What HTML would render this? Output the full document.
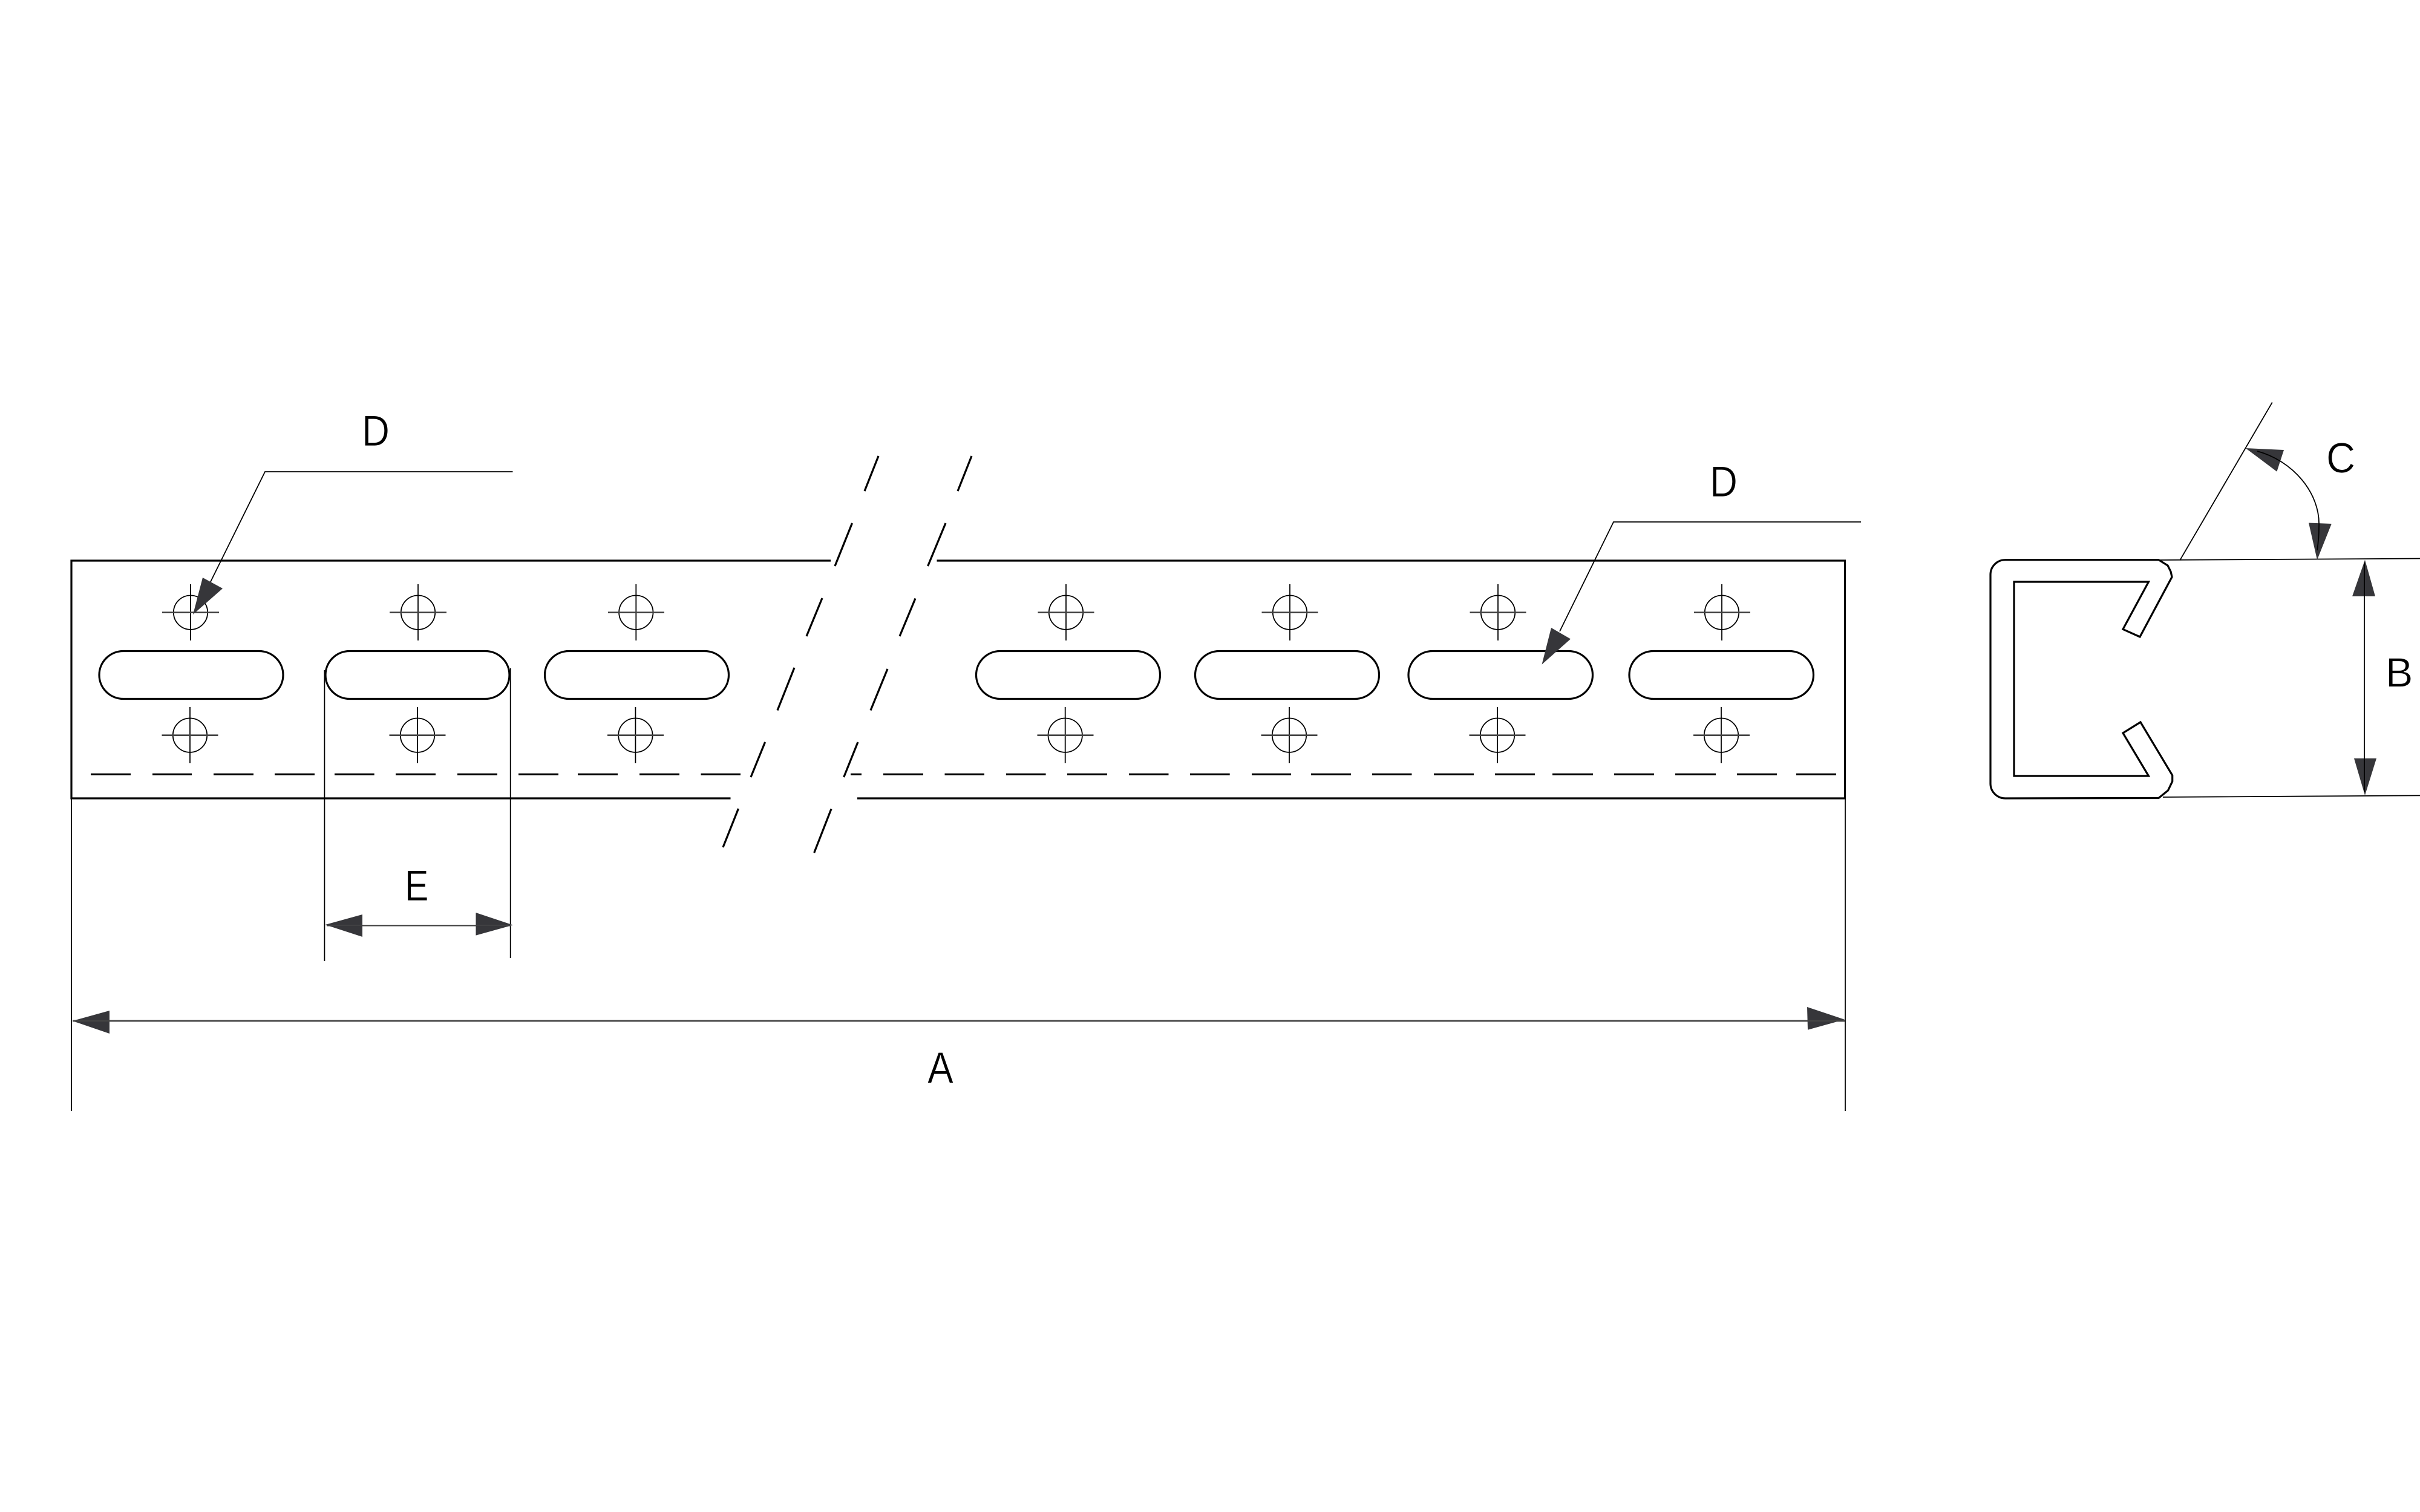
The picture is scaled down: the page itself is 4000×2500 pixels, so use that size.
<!DOCTYPE html>
<html>
<head>
<meta charset="utf-8">
<style>
html,body{margin:0;padding:0;background:#fff;width:4000px;height:2500px;overflow:hidden}
svg{display:block}
.t{fill:none;stroke:#000;stroke-width:3.2}
.n{fill:none;stroke:#000;stroke-width:1.8}
.g{fill:none;stroke:#444;stroke-width:2.6}
.h{fill:#36363a;stroke:none}
text{font-family:"Liberation Sans",sans-serif;font-size:74px;fill:#000;stroke:#fff;stroke-width:.8}
</style>
</head>
<body>
<svg width="4000" height="2500" viewBox="0 0 4000 2500" xmlns="http://www.w3.org/2000/svg">
<rect width="4000" height="2500" fill="#fff"/>

<!-- plate outline -->
<path class="t" d="M1373 927H118V1320H1207.5M1417 1320H3049.5V927H1548.5"/>

<!-- slots -->
<rect class="t" x="164" y="1076.5" width="304" height="79" rx="40" ry="39.5"/>
<rect class="t" x="538" y="1076.5" width="304" height="79" rx="40" ry="39.5"/>
<rect class="t" x="900.5" y="1076.5" width="304" height="79" rx="40" ry="39.5"/>
<rect class="t" x="1613.5" y="1076.5" width="304" height="79" rx="40" ry="39.5"/>
<rect class="t" x="1975.5" y="1076.5" width="304" height="79" rx="40" ry="39.5"/>
<rect class="t" x="2328" y="1076.5" width="304.5" height="79" rx="40" ry="39.5"/>
<rect class="t" x="2693" y="1076.5" width="304.5" height="79" rx="40" ry="39.5"/>

<!-- holes -->
<g class="n">
<circle cx="315" cy="1012.7" r="28.2"/><path d="M315 966V1059"/>
<circle cx="691" cy="1012.7" r="28.2"/><path d="M691 966V1059"/>
<circle cx="1051.3" cy="1012.7" r="28.2"/><path d="M1051.3 966V1059"/>
<circle cx="1762" cy="1012.7" r="28.2"/><path d="M1762 966V1059"/>
<circle cx="2132" cy="1012.7" r="28.2"/><path d="M2132 966V1059"/>
<circle cx="2476" cy="1012.7" r="28.2"/><path d="M2476 966V1059"/>
<circle cx="2846" cy="1012.7" r="28.2"/><path d="M2846 966V1059"/>
<circle cx="314" cy="1215.7" r="28.2"/><path d="M314 1169V1262"/>
<circle cx="690" cy="1215.7" r="28.2"/><path d="M690 1169V1262"/>
<circle cx="1050.4" cy="1215.7" r="28.2"/><path d="M1050.4 1169V1262"/>
<circle cx="1760.7" cy="1215.7" r="28.2"/><path d="M1760.7 1169V1262"/>
<circle cx="2131" cy="1215.7" r="28.2"/><path d="M2131 1169V1262"/>
<circle cx="2475" cy="1215.7" r="28.2"/><path d="M2475 1169V1262"/>
<circle cx="2845" cy="1215.7" r="28.2"/><path d="M2845 1169V1262"/>
</g>
<path class="g" d="M268 1012.7H362M644 1012.7H738M1005 1012.7H1098M1715.5 1012.7H1808.5M2085.5 1012.7H2178.5M2429.5 1012.7H2522.5M2800 1012.7H2893M267.5 1215.7H360.5M643.5 1215.7H736.5M1004 1215.7H1097M1714.5 1215.7H1807.5M2084.5 1215.7H2177.5M2428.5 1215.7H2521.5M2799 1215.7H2892"/>

<!-- dashed fold line -->
<path class="t" d="M150 1280.3H216M252 1280.3H317M353 1280.3H419M454 1280.3H520M553 1280.3H618.7M654 1280.3H720M756 1280.3H822M857 1280.3H923M955 1280.3H1021M1057 1280.3H1123M1158.5 1280.3H1224M1406 1280.3H1424M1460 1280.3H1526M1561.5 1280.3H1627M1663 1280.3H1728.6M1764 1280.3H1830M1866 1280.3H1931.5M1967 1280.3H2032.7M2069 1280.3H2134M2167 1280.3H2233M2268 1280.3H2333.5M2370 1280.3H2436M2471 1280.3H2537M2566 1280.3H2633M2668 1280.3H2734M2769 1280.3H2836M2871 1280.3H2937M2969 1280.3H3035"/>

<!-- break lines -->
<path class="t" d="M1452 754L1429 812M1408.5 865L1380 936M1359 989L1333 1052M1313 1104L1285 1174.5M1264.6 1227L1241 1285M1220.5 1337L1195 1401M1606 754L1583 812M1563 865L1533.6 936M1513 989.5L1487 1052M1467 1106L1439 1174.5M1418 1227L1394.7 1285M1374 1337.5L1345.7 1410"/>

<!-- extension lines -->
<path class="n" d="M118 1320V1837M3050 1320V1837M536.4 1108V1589M843.7 1105V1584"/>

<!-- E dimension -->
<path class="g" style="stroke-width:2" d="M540 1530.5H845"/>
<path class="h" d="M537.5 1529L599 1512V1549Z"/>
<path class="h" d="M848 1529.5L786.5 1509V1546.6Z"/>
<path class="g" style="stroke-width:1.4" d="M540 1530H845"/>

<!-- A dimension -->
<path class="g" d="M120 1688H3049"/>
<path class="h" d="M119.6 1688L181 1671V1709Z"/>
<path class="h" d="M3049 1685.7L2987 1665L2988 1702.7Z"/>
<path class="g" d="M120 1688H3049"/>

<!-- D leaders -->
<path class="n" d="M847.5 780H438L348 962"/>
<path class="h" d="M319 1016L335 955L368 973Z"/>
<path class="n" d="M3076 863H2667L2578 1044"/>
<path class="h" d="M2548.5 1098.6L2564 1038L2596 1056.5Z"/>

<!-- section profile -->
<path class="t" d="M3314.6 925.7H3568L3583 935L3588 945L3590 954L3537 1053L3509 1040.4L3551.4 962H3329V1283H3551.4L3509 1212L3538 1194L3590.7 1282V1292L3583.5 1307L3568 1319.5L3314.6 1320A24.5 24.5 0 0 1 3290 1296V950A24.5 24.5 0 0 1 3314.6 925.7Z"/>
<path class="n" d="M3568 926L4000 923.5M3575 1318L4000 1315.4M3603 926.6L3755.7 665.4"/>
<path class="h" d="M3711.7 741L3775 744L3763.4 779.7Z"/>
<path class="h" d="M3830 925.7L3816 864.5L3853.8 866Z"/>
<path class="n" d="M3731 746C3790 762 3835 815 3833 870Q3833 890 3830 910"/>
<path class="h" d="M3909 925.7L3888 986H3926Z"/>
<path class="h" d="M3909 1315L3891 1254H3928Z"/>
<path class="n" d="M3908 930V1310"/>

<!-- labels -->
<text transform="translate(598 737) scale(.86 .97)">D</text>
<text transform="translate(2826 821) scale(.86 .97)">D</text>
<text transform="translate(669 1489) scale(.8 .97)">E</text>
<text transform="translate(1533 1791) scale(.87 .99)">A</text>
<text transform="translate(3943 1135.5) scale(.92 .93)">B</text>
<text transform="translate(3845 781.5) scale(.9 .95)">C</text>
</svg>
</body>
</html>
